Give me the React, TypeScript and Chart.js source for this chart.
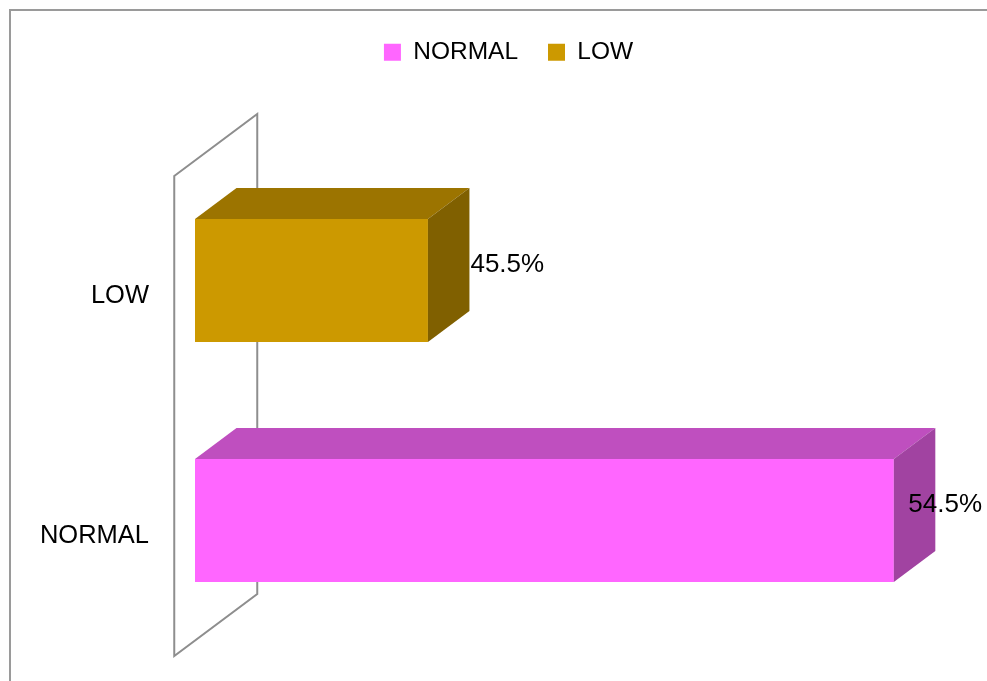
import { useEffect, useRef } from 'react';
import { Chart, registerables } from 'chart.js';

Chart.register(...registerables);

// Categories and their shares (percent)
const categories = ['NORMAL', 'LOW'];
const percentages = [54.5, 45.5];

// Face colours per category: front, top, side
const frontColors = ['#FF66FF', '#CC9900'];
const topColors = ['#BF4FBF', '#9C7400'];
const sideColors = ['#A143A1', '#806000'];

// Value axis range (hidden)
const valueAxisMin = 41;
const valueAxisMax = 56.3;

const FONT = '"Liberation Sans", Arial, sans-serif';

// Pseudo-3D geometry: full floor depth vector, bars sit in the middle half of it
const DEPTH_X = 83;
const DEPTH_Y = -62;
const BAR_OFFSET = 0.25;
const BAR_DEPTH = 0.5;

function fillPoly(ctx: CanvasRenderingContext2D, pts: number[][], color: string) {
  ctx.beginPath();
  ctx.moveTo(pts[0][0], pts[0][1]);
  for (let i = 1; i < pts.length; i++) ctx.lineTo(pts[i][0], pts[i][1]);
  ctx.closePath();
  ctx.fillStyle = color;
  ctx.fill();
}

const box3d = {
  id: 'box3d',
  beforeDatasetsDraw(chart: any) {
    const { ctx, chartArea } = chart;
    const { left, top, bottom } = chartArea;
    const fx = left - BAR_OFFSET * DEPTH_X;
    const fy = -BAR_OFFSET * DEPTH_Y;
    const bx = left + (1 - BAR_OFFSET) * DEPTH_X;
    const by = (1 - BAR_OFFSET) * DEPTH_Y;
    ctx.save();
    ctx.beginPath();
    ctx.moveTo(fx, top + fy);
    ctx.lineTo(bx, top + by);
    ctx.lineTo(bx, bottom + by);
    ctx.lineTo(fx, bottom + fy);
    ctx.closePath();
    ctx.strokeStyle = '#8e8e8e';
    ctx.lineWidth = 2;
    ctx.stroke();
    ctx.restore();
  },
  afterDatasetsDraw(chart: any) {
    const { ctx } = chart;
    const meta = chart.getDatasetMeta(0);
    const dx = DEPTH_X * BAR_DEPTH;
    const dy = DEPTH_Y * BAR_DEPTH;
    ctx.save();
    meta.data.forEach((bar: any, i: number) => {
      const { x, y, base, height } = bar.getProps(['x', 'y', 'base', 'height'], true);
      const t = y - height / 2;
      const b = y + height / 2;
      fillPoly(ctx, [[base, t], [x, t], [x + dx, t + dy], [base + dx, t + dy]], topColors[i]);
      fillPoly(ctx, [[x, t], [x + dx, t + dy], [x + dx, b + dy], [x, b]], sideColors[i]);

      const text = percentages[i].toFixed(1) + '%';
      ctx.font = `26px ${FONT}`;
      const w = ctx.measureText(text).width;
      const lx = Math.min(x + dx + 1, chart.width - 5 - w);
      ctx.fillStyle = '#000';
      ctx.textAlign = 'left';
      ctx.textBaseline = 'middle';
      ctx.fillText(text, lx, y + dy / 2);
    });
    ctx.restore();
  },
};

export default function App() {
  const canvasRef = useRef<HTMLCanvasElement | null>(null);

  useEffect(() => {
    const canvas = canvasRef.current;
    if (!canvas) return;
    const chart = new Chart(canvas, {
      type: 'bar',
      data: {
        labels: categories,
        datasets: [
          {
            data: percentages,
            base: valueAxisMin,
            backgroundColor: frontColors,
            borderWidth: 0,
            barPercentage: 0.5125,
            categoryPercentage: 1,
          },
        ],
      },
      options: {
        indexAxis: 'y',
        animation: false,
        responsive: false,
        devicePixelRatio: 1,
        layout: { padding: { left: 30, right: 0, top: 10, bottom: 40.5 } },
        scales: {
          x: {
            position: 'top',
            min: valueAxisMin,
            max: valueAxisMax,
            grid: { display: false, drawTicks: false },
            border: { display: false },
            ticks: { display: false },
            afterFit: (s: any) => {
              s.height = 86;
            },
          },
          y: {
            reverse: true,
            grid: { display: false, drawTicks: false },
            border: { display: false },
            ticks: {
              color: '#000',
              font: { family: FONT, size: 25.5 },
              padding: 46,
              labelOffset: 15.5,
            },
            afterFit: (s: any) => {
              s.width = 165;
              s.paddingTop = 0;
              s.paddingBottom = 0;
            },
          },
        },
        plugins: {
          tooltip: { enabled: false },
          legend: {
            position: 'top',
            labels: {
              color: '#000',
              font: { family: FONT, size: 24.5 },
              boxWidth: 17,
              boxHeight: 17,
              padding: 30,
              generateLabels: () =>
                categories.map((c, i) => ({
                  text: c,
                  fillStyle: frontColors[i],
                  strokeStyle: frontColors[i],
                  lineWidth: 0,
                  hidden: false,
                  index: i,
                  datasetIndex: 0,
                  fontColor: '#000',
                })),
            },
          },
        },
      },
      plugins: [box3d],
    });
    return () => chart.destroy();
  }, []);

  return (
    <div
      style={{
        position: 'fixed',
        left: 0,
        top: 0,
        width: 987,
        height: 681,
        overflow: 'hidden',
        background: '#fff',
      }}
    >
      <div
        style={{
          position: 'absolute',
          left: 9,
          top: 9,
          width: 1100,
          height: 800,
          border: '2px solid #9a9a9a',
          boxSizing: 'border-box',
        }}
      />
      <canvas
        ref={canvasRef}
        width={987}
        height={681}
        style={{ position: 'absolute', left: 0, top: 0, width: 987, height: 681 }}
      />
    </div>
  );
}
